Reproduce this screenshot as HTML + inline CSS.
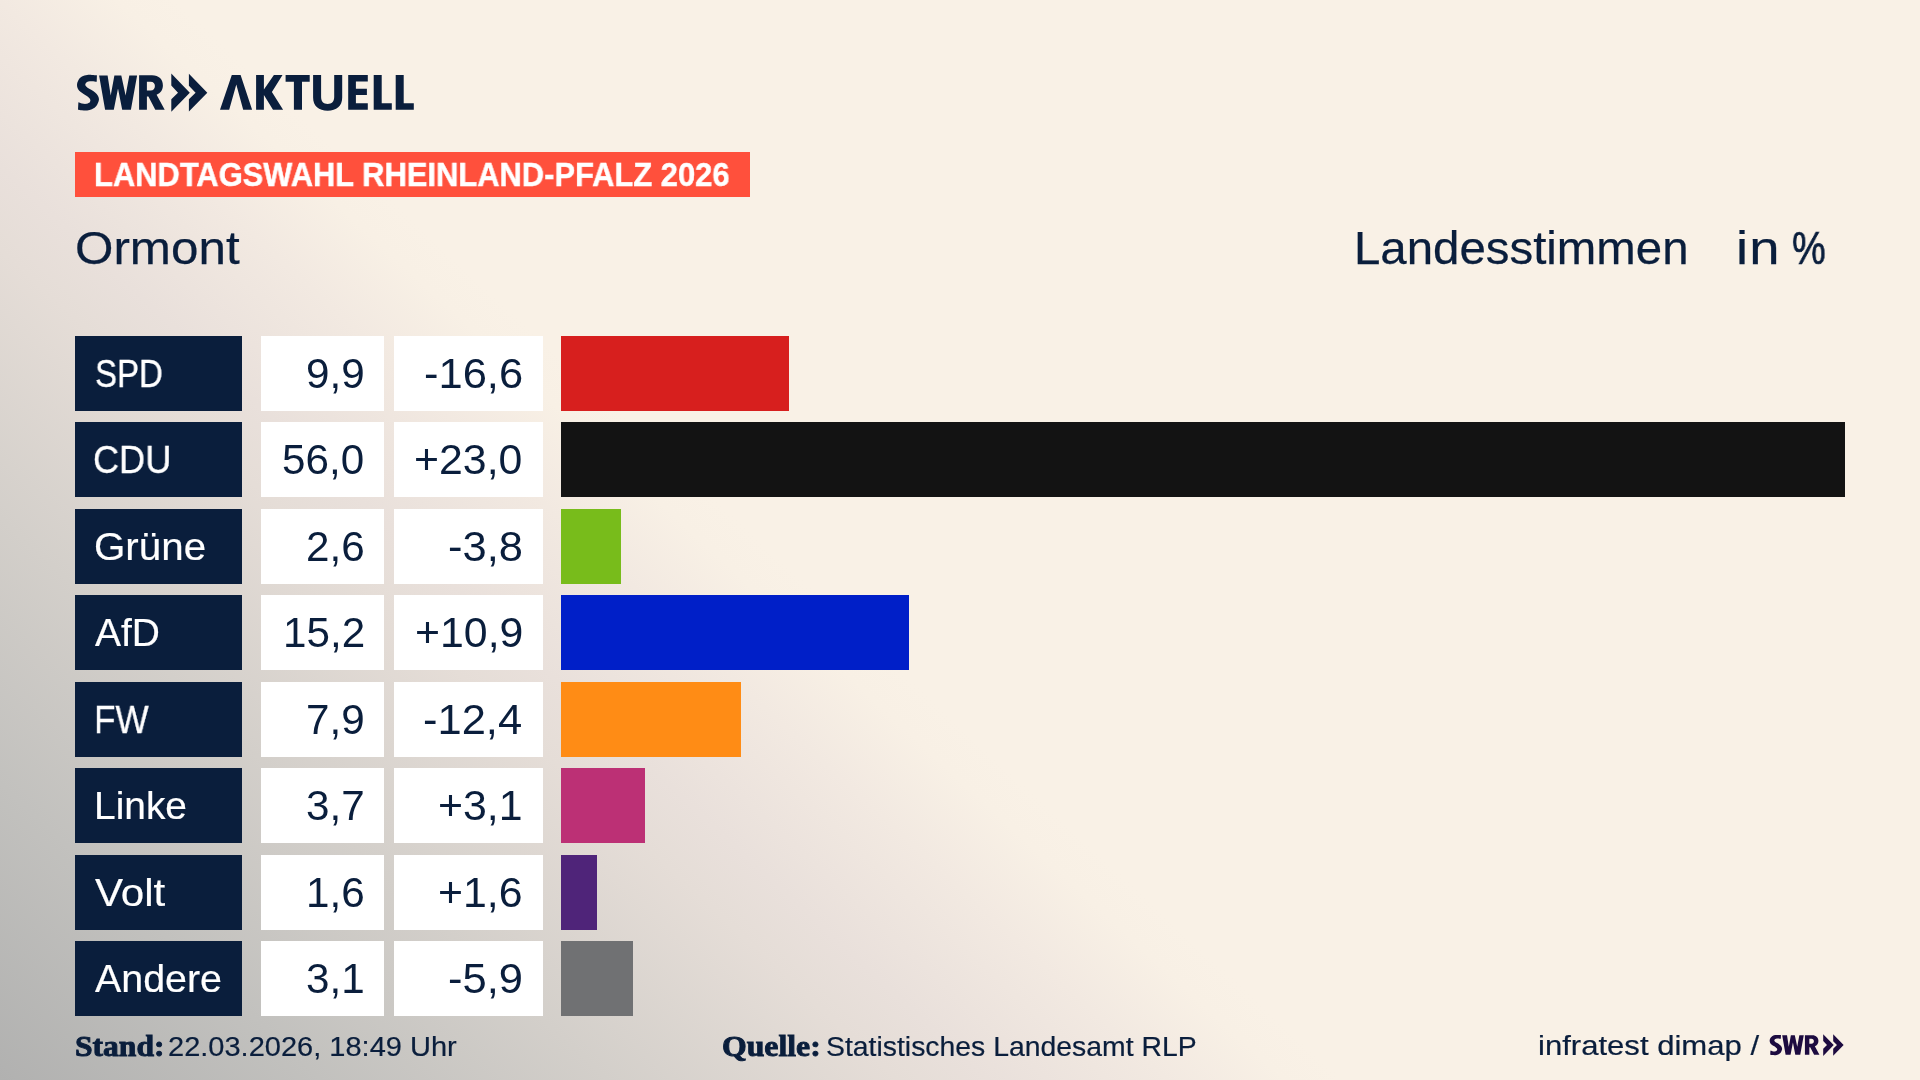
<!DOCTYPE html>
<html lang="de">
<head>
<meta charset="utf-8">
<title>Landtagswahl Rheinland-Pfalz 2026 – Ormont – Landesstimmen</title>
<style>
html,body{margin:0;padding:0;}
body{width:1920px;height:1080px;overflow:hidden;position:relative;
 font-family:"Liberation Sans",sans-serif;
 background:#f9f1e6 linear-gradient(42.75deg,#b1b1b0 0%,#c2c1be 10.4%,#d3cfca 19.7%,#e5ddd7 29.1%,#e9e0db 32%,#f2e9e1 37.8%,#f8f0e5 41.6%,#f9f1e6 43.5%,#f9f1e6 100%);}
.t{position:absolute;white-space:nowrap;line-height:1;transform-origin:0 0;display:block;will-change:transform;}
.box{position:absolute;}
.lab{background:#0a1e3c;left:75px;width:167px;height:75px;}
.val{background:#fff;left:261px;width:123px;height:75px;}
.chg{background:#fff;left:394px;width:148.5px;height:75px;}
.bar{left:561px;height:75px;}
.banner{left:75px;top:152px;width:675px;height:45px;background:#ff503c;}
svg.logo{position:absolute;left:0;top:0;}
</style>
</head>
<body>
<svg class="logo" width="1920" height="1080" viewBox="0 0 1920 1080" role="img" aria-label="SWR Aktuell">
<g fill="#0a1e3c" fill-rule="evenodd">
<path d="M96.91,75.18 C96.08,75.14 93.56,74.94 91.93,74.90 C90.30,74.87 88.81,74.71 87.15,74.98 C85.49,75.26 83.43,75.71 81.97,76.58 C80.51,77.44 79.21,78.77 78.38,80.16 C77.55,81.56 77.05,83.48 76.99,84.94 C76.92,86.41 77.35,87.73 77.98,88.93 C78.61,90.12 79.71,91.19 80.77,92.12 C81.84,93.05 83.23,93.78 84.36,94.51 C85.49,95.24 86.62,95.77 87.55,96.50 C88.48,97.23 89.47,98.19 89.94,98.89 C90.40,99.59 90.47,100.02 90.33,100.68 C90.20,101.35 89.87,102.34 89.14,102.87 C88.41,103.40 87.15,103.77 85.95,103.87 C84.76,103.97 83.23,103.74 81.97,103.47 C80.71,103.20 78.98,102.47 78.38,102.27 L77.98,109.65 C78.65,109.75 80.44,110.11 81.97,110.24 C83.50,110.38 85.49,110.61 87.15,110.44 C88.81,110.28 90.40,109.98 91.93,109.25 C93.46,108.52 95.15,107.59 96.31,106.06 C97.47,104.53 98.63,101.81 98.90,100.08 C99.17,98.36 98.54,96.96 97.90,95.70 C97.27,94.44 96.24,93.51 95.12,92.51 C93.99,91.52 92.39,90.52 91.13,89.73 C89.87,88.93 88.51,88.46 87.55,87.73 C86.58,87.00 85.62,86.14 85.35,85.34 C85.09,84.55 85.45,83.58 85.95,82.95 C86.45,82.32 87.35,81.86 88.34,81.56 C89.34,81.26 90.53,81.14 91.93,81.16 C93.32,81.18 95.91,81.59 96.71,81.68 Z"/>
<path d="M99.1,75.4 L107.6,75.4 L110.7,95.6 L114.4,75.4 L121.3,75.4 L125.6,95.6 L129.3,75.4 L137.1,75.4 L130.9,109.8 L122.2,109.8 L118,88.4 L113.8,109.8 L105.1,109.8 Z"/>
<path d="M139.1,75.3 H152 C159,75.3 162.9,79.5 162.9,85.6 C162.9,90 160.5,93.2 156.6,94.8 L164.7,109.8 H155.3 L148.4,96.4 H146.9 V109.8 H139.1 Z M146.9,81.7 V90.6 H150.6 C153.4,90.6 154.9,88.8 154.9,86.1 C154.9,83.3 153.4,81.7 150.6,81.7 Z"/>
<path d="M171.3,73.6 L189.8,92.7 L171.3,111.8 V99.3 L178,92.7 L171.3,85.6 Z"/>
<path d="M188.9,73.8 L207.3,92.7 L188.9,111.6 V99.3 L195.6,92.7 L188.9,85.8 Z"/>
<path d="M220,109.8 L231.8,74.9 L240.6,74.9 L252.1,109.8 L243.2,109.8 L236.3,84.6 L229.2,109.8 Z"/>
<path d="M256.1,74.9 H263.9 V89.5 L273.9,74.9 H282.5 L271.9,92.1 L283.1,109.8 H273 L263.9,94.9 V109.8 H256.1 Z"/>
<path d="M285.6,74.9 H309.7 V81.8 H302 V109.8 H293.9 V81.8 H285.6 Z"/>
<path d="M313.1,74.9 H321.1 V97 C321.1,101.5 323.5,103.9 327.65,103.9 C331.8,103.9 334.2,101.5 334.2,97 V74.9 H342.2 V97.5 C342.2,106 336.5,110.7 327.65,110.7 C318.8,110.7 313.1,106 313.1,97.5 Z"/>
<path d="M348.2,74.9 H367.8 V81.4 H355.9 V88.8 H366.9 V95 H355.9 V103.3 H367.8 V109.8 H348.2 Z"/>
<path d="M373.7,74.9 H381.7 V103.3 H391.8 V109.8 H373.7 Z"/>
<path d="M395.7,74.9 H403.7 V103.3 H413.8 V109.8 H395.7 Z"/>
</g>
<g fill="#1d0b40" fill-rule="evenodd" transform="translate(1725.9 992.4) scale(0.568)">
<path d="M96.91,75.18 C96.08,75.14 93.56,74.94 91.93,74.90 C90.30,74.87 88.81,74.71 87.15,74.98 C85.49,75.26 83.43,75.71 81.97,76.58 C80.51,77.44 79.21,78.77 78.38,80.16 C77.55,81.56 77.05,83.48 76.99,84.94 C76.92,86.41 77.35,87.73 77.98,88.93 C78.61,90.12 79.71,91.19 80.77,92.12 C81.84,93.05 83.23,93.78 84.36,94.51 C85.49,95.24 86.62,95.77 87.55,96.50 C88.48,97.23 89.47,98.19 89.94,98.89 C90.40,99.59 90.47,100.02 90.33,100.68 C90.20,101.35 89.87,102.34 89.14,102.87 C88.41,103.40 87.15,103.77 85.95,103.87 C84.76,103.97 83.23,103.74 81.97,103.47 C80.71,103.20 78.98,102.47 78.38,102.27 L77.98,109.65 C78.65,109.75 80.44,110.11 81.97,110.24 C83.50,110.38 85.49,110.61 87.15,110.44 C88.81,110.28 90.40,109.98 91.93,109.25 C93.46,108.52 95.15,107.59 96.31,106.06 C97.47,104.53 98.63,101.81 98.90,100.08 C99.17,98.36 98.54,96.96 97.90,95.70 C97.27,94.44 96.24,93.51 95.12,92.51 C93.99,91.52 92.39,90.52 91.13,89.73 C89.87,88.93 88.51,88.46 87.55,87.73 C86.58,87.00 85.62,86.14 85.35,85.34 C85.09,84.55 85.45,83.58 85.95,82.95 C86.45,82.32 87.35,81.86 88.34,81.56 C89.34,81.26 90.53,81.14 91.93,81.16 C93.32,81.18 95.91,81.59 96.71,81.68 Z"/>
<path d="M99.1,75.4 L107.6,75.4 L110.7,95.6 L114.4,75.4 L121.3,75.4 L125.6,95.6 L129.3,75.4 L137.1,75.4 L130.9,109.8 L122.2,109.8 L118,88.4 L113.8,109.8 L105.1,109.8 Z"/>
<path d="M139.1,75.3 H152 C159,75.3 162.9,79.5 162.9,85.6 C162.9,90 160.5,93.2 156.6,94.8 L164.7,109.8 H155.3 L148.4,96.4 H146.9 V109.8 H139.1 Z M146.9,81.7 V90.6 H150.6 C153.4,90.6 154.9,88.8 154.9,86.1 C154.9,83.3 153.4,81.7 150.6,81.7 Z"/>
<path d="M171.3,73.6 L189.8,92.7 L171.3,111.8 V99.3 L178,92.7 L171.3,85.6 Z"/>
<path d="M188.9,73.8 L207.3,92.7 L188.9,111.6 V99.3 L195.6,92.7 L188.9,85.8 Z"/>
</g>
</svg>
<div class="box banner"></div>
<span class="t" style="left:93.67px;top:158px;font-size:33px;color:#ffffff;font-weight:700;transform:scaleX(0.9359);-webkit-text-stroke:0.49px #ffffff;">LANDTAGSWAHL RHEINLAND-PFALZ 2026</span>
<span class="t" style="left:75.19px;top:225.7px;font-size:45.6px;color:#0a1e3c;transform:scaleX(1.0830);-webkit-text-stroke:0.25px #0a1e3c;">Ormont</span>
<span class="t" style="left:1354.1px;top:225.6px;font-size:45.4px;color:#0a1e3c;transform:scaleX(1.0439);-webkit-text-stroke:0.25px #0a1e3c;">Landesstimmen</span>
<span class="t" style="left:1735.6px;top:225.7px;font-size:45.4px;color:#0a1e3c;transform:scaleX(1.2000);-webkit-text-stroke:0.25px #0a1e3c;letter-spacing:0.97px;">in</span>
<span class="t" style="left:1791.72px;top:225.7px;font-size:45.4px;color:#0a1e3c;transform:scaleX(0.8352);-webkit-text-stroke:0.73px #0a1e3c;">%</span>
<div class="box lab" style="top:336px"></div><div class="box val" style="top:336px"></div><div class="box chg" style="top:336px"></div><div class="box bar" style="top:336px;width:228px;background:#d71f1e"></div>
<span class="t" style="left:94.57px;top:354.9px;font-size:38.6px;color:#ffffff;transform:scaleX(0.8546);-webkit-text-stroke:0.4px #ffffff;">SPD</span><span class="t" style="left:306.35px;top:353.3px;font-size:42.2px;color:#0a1e3c;">9,9</span><span class="t" style="left:423.99px;top:353.3px;font-size:42.2px;color:#0a1e3c;transform:scaleX(1.0300);">-16,6</span>
<div class="box lab" style="top:422px"></div><div class="box val" style="top:422px"></div><div class="box chg" style="top:422px"></div><div class="box bar" style="top:422px;width:1284px;background:#131313"></div>
<span class="t" style="left:93.4px;top:440.9px;font-size:38.6px;color:#ffffff;transform:scaleX(0.9373);-webkit-text-stroke:0.29px #ffffff;">CDU</span><span class="t" style="left:282.22px;top:439.3px;font-size:42.2px;color:#0a1e3c;">56,0</span><span class="t" style="left:413.99px;top:439.3px;font-size:42.2px;color:#0a1e3c;transform:scaleX(1.0150);">+23,0</span>
<div class="box lab" style="top:509px"></div><div class="box val" style="top:509px"></div><div class="box chg" style="top:509px"></div><div class="box bar" style="top:509px;width:60px;background:#78bc1b"></div>
<span class="t" style="left:93.81px;top:527.9px;font-size:38.6px;color:#ffffff;transform:scaleX(1.0452);-webkit-text-stroke:0.2px #ffffff;">Grüne</span><span class="t" style="left:306.35px;top:526.3px;font-size:42.2px;color:#0a1e3c;">2,6</span><span class="t" style="left:448.16px;top:526.3px;font-size:42.2px;color:#0a1e3c;transform:scaleX(1.0300);">-3,8</span>
<div class="box lab" style="top:595px"></div><div class="box val" style="top:595px"></div><div class="box chg" style="top:595px"></div><div class="box bar" style="top:595px;width:348px;background:#001fc8"></div>
<span class="t" style="left:94.6px;top:613.9px;font-size:38.6px;color:#ffffff;transform:scaleX(1.0110);-webkit-text-stroke:0.2px #ffffff;">AfD</span><span class="t" style="left:282.88px;top:612.3px;font-size:42.2px;color:#0a1e3c;">15,2</span><span class="t" style="left:414.66px;top:612.3px;font-size:42.2px;color:#0a1e3c;transform:scaleX(1.0150);">+10,9</span>
<div class="box lab" style="top:682px"></div><div class="box val" style="top:682px"></div><div class="box chg" style="top:682px"></div><div class="box bar" style="top:682px;width:180px;background:#ff8c15"></div>
<span class="t" style="left:94.35px;top:700.9px;font-size:38.6px;color:#ffffff;transform:scaleX(0.9119);-webkit-text-stroke:0.32px #ffffff;">FW</span><span class="t" style="left:306.35px;top:699.3px;font-size:42.2px;color:#0a1e3c;">7,9</span><span class="t" style="left:423.31px;top:699.3px;font-size:42.2px;color:#0a1e3c;transform:scaleX(1.0300);">-12,4</span>
<div class="box lab" style="top:768px"></div><div class="box val" style="top:768px"></div><div class="box chg" style="top:768px"></div><div class="box bar" style="top:768px;width:84px;background:#bc3075"></div>
<span class="t" style="left:93.56px;top:786.9px;font-size:38.6px;color:#ffffff;transform:scaleX(1.0080);-webkit-text-stroke:0.2px #ffffff;">Linke</span><span class="t" style="left:306.35px;top:785.3px;font-size:42.2px;color:#0a1e3c;">3,7</span><span class="t" style="left:438.48px;top:785.3px;font-size:42.2px;color:#0a1e3c;transform:scaleX(1.0150);">+3,1</span>
<div class="box lab" style="top:855px"></div><div class="box val" style="top:855px"></div><div class="box chg" style="top:855px"></div><div class="box bar" style="top:855px;width:36px;background:#4f2479"></div>
<span class="t" style="left:94.6px;top:873.9px;font-size:38.6px;color:#ffffff;transform:scaleX(1.0912);-webkit-text-stroke:0.2px #ffffff;">Volt</span><span class="t" style="left:306.35px;top:872.3px;font-size:42.2px;color:#0a1e3c;">1,6</span><span class="t" style="left:438.48px;top:872.3px;font-size:42.2px;color:#0a1e3c;transform:scaleX(1.0150);">+1,6</span>
<div class="box lab" style="top:941px"></div><div class="box val" style="top:941px"></div><div class="box chg" style="top:941px"></div><div class="box bar" style="top:941px;width:72px;background:#707173"></div>
<span class="t" style="left:94.6px;top:959.9px;font-size:38.6px;color:#ffffff;transform:scaleX(1.0211);-webkit-text-stroke:0.2px #ffffff;">Andere</span><span class="t" style="left:306.35px;top:958.3px;font-size:42.2px;color:#0a1e3c;">3,1</span><span class="t" style="left:448.16px;top:958.3px;font-size:42.2px;color:#0a1e3c;transform:scaleX(1.0300);">-5,9</span>
<span class="t" style="left:74.62px;top:1032.3px;font-size:29.5px;color:#0a1e3c;font-weight:700;font-family:'Liberation Serif',serif;transform:scaleX(1.0704);-webkit-text-stroke:0.9px #0a1e3c;">Stand:</span>
<span class="t" style="left:168.24px;top:1033.3px;font-size:27.5px;color:#0a1e3c;transform:scaleX(1.0549);-webkit-text-stroke:0.2px #0a1e3c;">22.03.2026, 18:49 Uhr</span>
<span class="t" style="left:722.01px;top:1031.9px;font-size:29.5px;color:#0a1e3c;font-weight:700;font-family:'Liberation Serif',serif;transform:scaleX(1.0759);-webkit-text-stroke:0.9px #0a1e3c;">Quelle:</span>
<span class="t" style="left:826.31px;top:1032.9px;font-size:27.5px;color:#0a1e3c;transform:scaleX(1.0317);-webkit-text-stroke:0.2px #0a1e3c;">Statistisches Landesamt RLP</span>
<span class="t" style="left:1538.26px;top:1032.4px;font-size:27.5px;color:#0a1e3c;transform:scaleX(1.1298);-webkit-text-stroke:0.2px #0a1e3c;">infratest dimap /</span>
</body>
</html>
